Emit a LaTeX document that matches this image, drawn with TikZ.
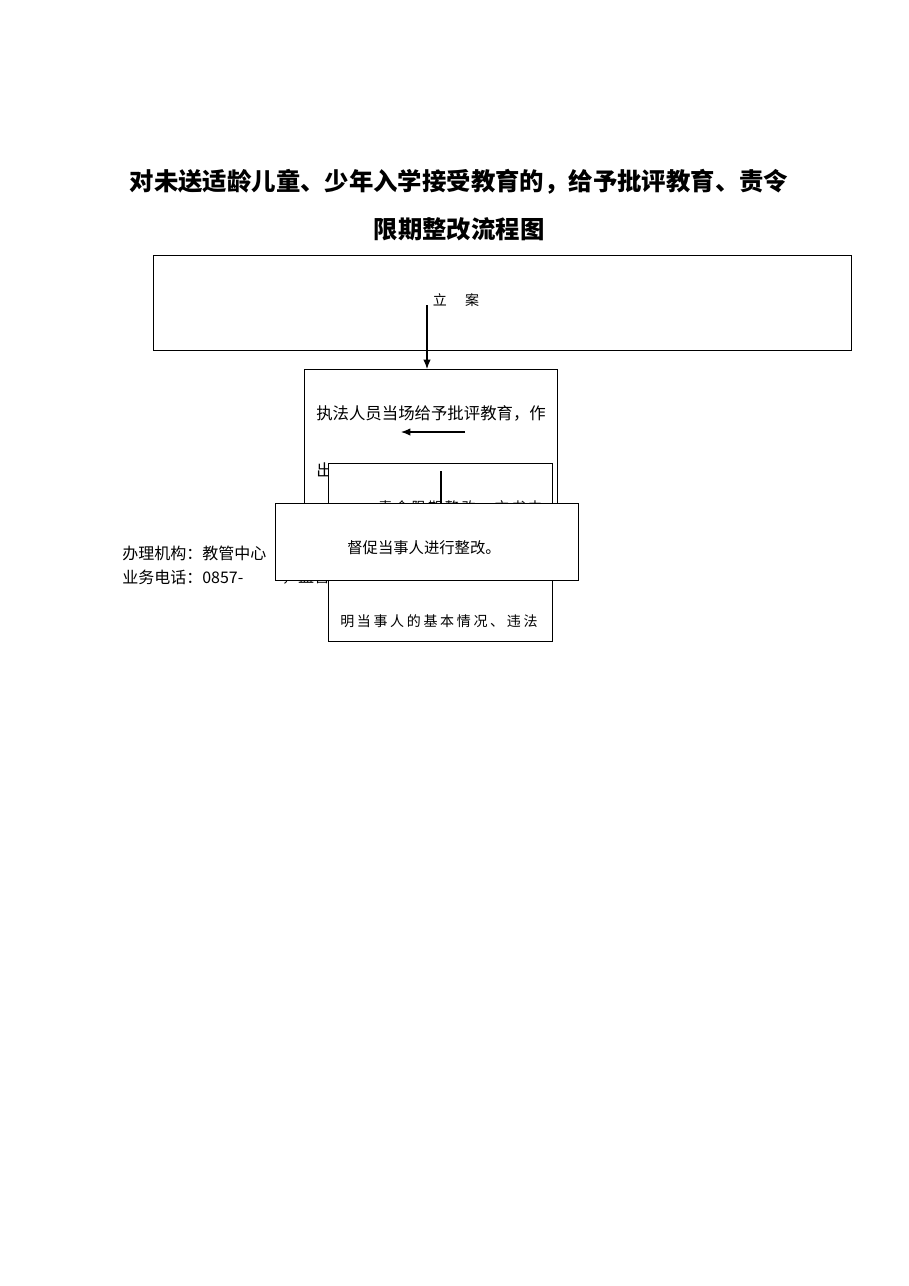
\documentclass[tikz,border=0pt]{standalone}
\usepackage{fontspec}
\newfontfamily\cjk{Noto Sans CJK SC}
\newfontfamily\cjkwide[LetterSpace=19]{Noto Sans CJK SC}
\usetikzlibrary{arrows.meta,positioning}
\tikzset{>={Latex[length=7pt,width=5.5pt]}}
\tikzset{
	flowbox/.style 2 args={draw, line width=1pt, fill=white, anchor=north west, inner sep=0pt,
		minimum width=#1*0.75pt, minimum height=#2*0.75pt},
	txt/.style={inner sep=0pt, font=\cjk\fontsize{12}{14}\selectfont},
	widetxt/.style={inner sep=0pt, anchor=west, font=\cjkwide\fontsize{10.5}{12}\selectfont}
}
\begin{document}
\begin{tikzpicture}[x=0.75pt,y=-0.75pt]
		\useasboundingbox[fill=white] (0,0) rectangle (909,1286);
		\node[inner sep=0pt, font=\cjk\bfseries\fontsize{18.3}{22}\selectfont] (title1) at (459,182) {对未送适龄儿童、少年入学接受教育的，给予批评教育、责令};
		\node[inner sep=0pt, font=\cjk\bfseries\fontsize{18.3}{22}\selectfont] (title2) at (459,229) {限期整改流程图};
		% 立案
		\node[flowbox={698}{95}] (lian) at (153,255) {};
		\node[txt, font=\cjk\fontsize{10.5}{12}\selectfont] (liantxt) at (456,300) {立\hspace{1.3em}案};
		\coordinate (la) at (427,305);
		% 批评教育
		\node[flowbox={253}{201}] (piping) at (304,369) {};
		\draw[->, line width=0.8pt] (la) -- (la |- piping.north);
		\node[txt, anchor=west, font=\cjk\fontsize{12.3}{14}\selectfont] (pipingtxt) at (316,413) {执法人员当场给予批评教育，作};
		\node[txt, anchor=west, font=\cjk\fontsize{12.3}{14}\selectfont] (chu) at (316,470) {出};
		\coordinate (lb) at (465,432);
		\coordinate (lb2) at (401,432);
		\draw[->, line width=0.8pt] (lb) -- (lb2);
		% 责令限期整改
		\node[flowbox={224}{178}] (zeling) at (328,463) {};
		\node[widetxt] (zelingtxt) at (378,507) {责令限期整改，文书中};
		\node[widetxt] (zelingtxt2) at (340,621) {明当事人的基本情况、违法};
		\coordinate (lc) at (441,471);
		\node[txt] (jiandu) at (306,577) {，监督};
		% 督促整改
		\node[flowbox={303}{77}] (duchu) at (275,503) {};
		\draw[line width=0.8pt] (lc) -- (lc |- duchu.north);
		\node[txt, font=\cjk\fontsize{11.5}{13}\selectfont] (duchutxt) at (424,548) {督促当事人进行整改。};
		\node[txt, anchor=west] (jigou) at (122,553) {办理机构：教管中心};
		\node[txt, anchor=west] (dianhua) at (122,577) {业务电话：0857-};
	\end{tikzpicture}
\end{document}
